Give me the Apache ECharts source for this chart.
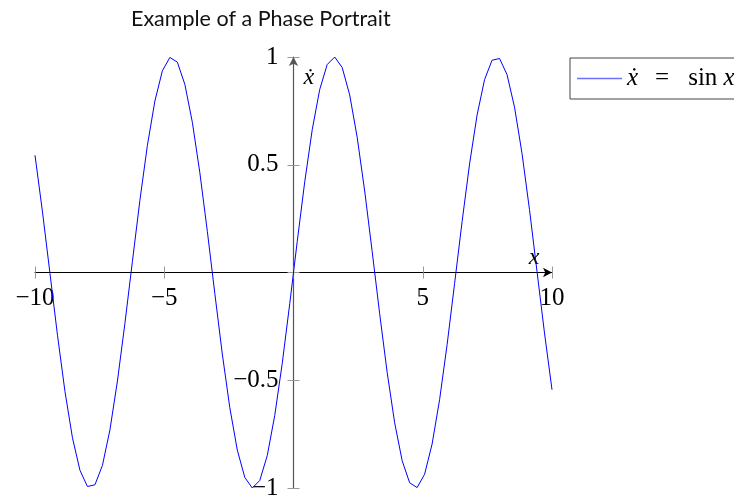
<!DOCTYPE html>
<html>
<head>
<meta charset="utf-8">
<script src="https://cdn.jsdelivr.net/npm/echarts@6/dist/echarts.min.js"></script>
<style>
html,body{margin:0;padding:0;background:#fff;}
#main{width:734px;height:495px;}
</style>
</head>
<body>
<div id="main"></div>
<script>
// sample points of the plotted curve (70 samples, -10..10)
var xs = [-10, -9.710, -9.420, -9.130, -8.841, -8.551, -8.261, -7.971, -7.681, -7.391,
  -7.101, -6.812, -6.522, -6.232, -5.942, -5.652, -5.362, -5.072, -4.783, -4.493,
  -4.203, -3.913, -3.623, -3.333, -3.043, -2.754, -2.464, -2.174, -1.884, -1.594,
  -1.304, -1.014, -0.725, -0.435, -0.145,
  0.145, 0.435, 0.725, 1.014, 1.304, 1.594, 1.884, 2.174, 2.464, 2.754,
  3.043, 3.333, 3.623, 3.913, 4.203, 4.493, 4.783, 5.072, 5.362, 5.652,
  5.942, 6.232, 6.522, 6.812, 7.101, 7.391, 7.681, 7.971, 8.261, 8.551,
  8.841, 9.130, 9.420, 9.710, 10];
var ys = [0.544, 0.281, -0.005, -0.291, -0.552, -0.767, -0.918, -0.993, -0.985, -0.895,
  -0.730, -0.504, -0.236, 0.051, 0.335, 0.590, 0.796, 0.936, 0.998, 0.976,
  0.873, 0.697, 0.463, 0.191, -0.098, -0.378, -0.627, -0.824, -0.951, -1.000,
  -0.965, -0.849, -0.663, -0.421, -0.144,
  0.144, 0.421, 0.663, 0.849, 0.965, 1.000, 0.951, 0.824, 0.627, 0.378,
  0.098, -0.191, -0.463, -0.697, -0.873, -0.976, -0.998, -0.936, -0.796, -0.590,
  -0.335, -0.051, 0.236, 0.504, 0.730, 0.895, 0.985, 0.993, 0.918, 0.767,
  0.552, 0.291, 0.005, -0.281, -0.544];

var serif = 'Liberation Serif';
var pts = [];
for (var i = 0; i < xs.length; i++) {
	pts.push([xs[i], ys[i]]);
}

function fmt(v) {
	if (v == 0) return '';
	return String(v).replace('-', '\u2212');
}

var tickOut = {show: true, length: 6, lineStyle: {color: '#999', width: 1}};
var tickIn = {show: true, inside: true, length: 6, lineStyle: {color: '#999', width: 1}};
var labelStyle = {fontFamily: serif, fontSize: 25, color: '#000', formatter: fmt, showMinLabel: true, showMaxLabel: true};

var myChart = echarts.init(document.getElementById('main'));
var option = {
	animation: false,
	title: {
		text: 'Example of a Phase Portrait',
		left: 126,
		top: 3,
		textStyle: {fontFamily: 'Lato', fontSize: 21.5, fontWeight: 'normal', color: '#111'}
	},
	legend: {
		left: 570,
		top: 58,
		orient: 'vertical',
		padding: [8, 8, 8, 7],
		borderColor: '#444',
		borderWidth: 1,
		icon: 'rect',
		itemWidth: 45,
		itemHeight: 1.3,
		itemStyle: {color: '#7070ff'},
		data: ['sin'],
		formatter: function () { return '{i|\u1E8B}{eq|=}sin {i|x}'; },
		textStyle: {
			fontFamily: serif, fontSize: 25, color: '#000',
			rich: {
				i: {fontFamily: serif, fontSize: 25, fontStyle: 'italic', color: '#000'},
				eq: {fontFamily: serif, fontSize: 25, color: '#000', padding: [0, 19, 0, 17]}
			}
		}
	},
	grid: {left: 35, right: 182, top: 57, bottom: 7, containLabel: false, outerBoundsMode: 'none'},
	xAxis: [{
		// axis line through y = 0
		type: 'value', min: -10, max: 10, interval: 5,
		splitLine: {show: false},
		axisLine: {onZero: true, symbol: ['none', 'arrow'], symbolSize: [7, 9], lineStyle: {color: '#000', width: 1}},
		axisTick: tickOut,
		axisLabel: {show: false},
		name: 'x',
		nameLocation: 'end',
		nameGap: -18,
		nameTextStyle: {fontFamily: serif, fontStyle: 'italic', fontSize: 24, color: '#000', align: 'center', verticalAlign: 'bottom', padding: [0, 0, 3, 0]}
	}, {
		// labels + upper half of ticks, moved up to y = 0
		type: 'value', min: -10, max: 10, interval: 5,
		position: 'bottom',
		offset: -215.5,
		splitLine: {show: false},
		axisLine: {show: false, onZero: false},
		axisTick: tickIn,
		axisLabel: echarts.util.extend({margin: 13}, labelStyle)
	}],
	yAxis: [{
		type: 'value', min: -1, max: 1, interval: 0.5,
		splitLine: {show: false},
		axisLine: {onZero: true, symbol: ['none', 'arrow'], symbolSize: [7, 9], lineStyle: {color: '#555', width: 1.2}},
		axisTick: tickOut,
		axisLabel: {show: false},
		name: '\u1E8B',
		nameLocation: 'end',
		nameGap: -21,
		nameTextStyle: {fontFamily: serif, fontStyle: 'italic', fontSize: 24, color: '#000', align: 'left', verticalAlign: 'middle', padding: [0, 0, 0, 10]}
	}, {
		type: 'value', min: -1, max: 1, interval: 0.5,
		position: 'left',
		offset: -258.5,
		splitLine: {show: false},
		axisLine: {show: false, onZero: false},
		axisTick: tickIn,
		axisLabel: echarts.util.extend({margin: 15}, labelStyle)
	}],
	series: [{
		name: 'sin',
		type: 'line',
		xAxisIndex: 0,
		yAxisIndex: 0,
		data: pts,
		symbol: 'none',
		smooth: false,
		lineStyle: {color: '#0000ff', width: 1}
	}]
};
myChart.setOption(option);
</script>
</body>
</html>
